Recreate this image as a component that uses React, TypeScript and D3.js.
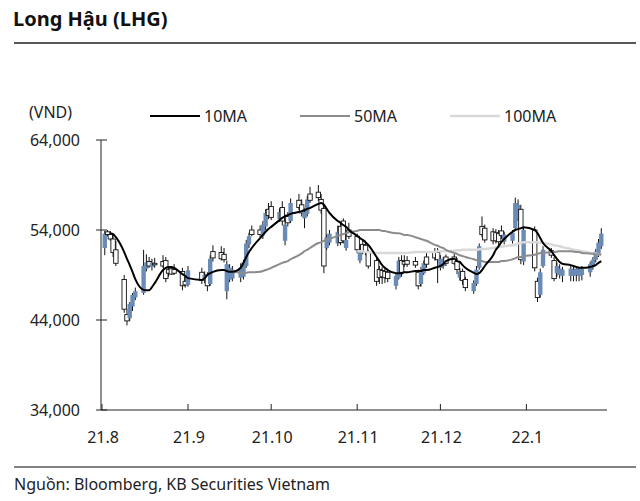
import * as d3 from "d3";

// [day, open, high, low, close] per trading day, VND
type Row = [number, number, number, number, number];

const AUG_2021: Row[] = [
  [2, 52000, 53900, 51200, 53600], [3, 53800, 54000, 53300, 53500], [4, 53500, 53900, 52800, 53000],
  [5, 53000, 53400, 51000, 51500], [6, 51800, 52800, 50000, 50300], [9, 48500, 49000, 44800, 45200],
  [10, 44600, 45200, 43400, 43900], [11, 44200, 46000, 43900, 45800], [12, 45500, 47000, 45000, 46800],
  [13, 46500, 47600, 46200, 47200], [16, 47000, 51800, 46800, 50000], [17, 49700, 51300, 49400, 50400],
  [18, 50500, 51000, 49800, 50000], [19, 49900, 50800, 49500, 50400], [20, 50300, 50900, 49800, 50200],
  [23, 50500, 51200, 49800, 50000], [24, 50600, 51000, 48200, 48600], [25, 49600, 50000, 48800, 49200],
  [26, 49700, 50000, 49000, 49100], [27, 49600, 50200, 49000, 49200], [30, 49400, 49800, 47300, 47800],
  [31, 48300, 48800, 47600, 47900],
];
const SEP_2021: Row[] = [
  [1, 47900, 50000, 47700, 49500], [6, 49300, 49800, 48000, 48400], [7, 48400, 49400, 48100, 49000],
  [8, 49000, 49300, 47200, 47800], [9, 48000, 51200, 47800, 50800], [10, 51600, 52300, 50500, 50900],
  [13, 51500, 52200, 50600, 50800], [14, 51300, 52000, 50400, 50700], [15, 47200, 50600, 46300, 50200],
  [16, 48500, 50200, 48200, 49800], [17, 48600, 50000, 48300, 49600], [20, 48700, 50300, 48200, 49800],
  [21, 48800, 50700, 48500, 50400], [22, 50000, 52900, 49800, 52500], [23, 52400, 53700, 52000, 53300],
  [24, 54000, 54500, 53300, 53500], [27, 54000, 54500, 53200, 53500], [28, 53400, 55000, 53000, 54600],
  [29, 54400, 56300, 54000, 55900], [30, 56300, 57000, 55200, 55600],
];
const OCT_2021: Row[] = [
  [1, 56600, 57200, 55100, 55400], [4, 55200, 56400, 54900, 56000], [5, 56500, 57200, 54500, 55000],
  [6, 52800, 55200, 52300, 54600], [7, 55500, 56000, 54400, 54800], [8, 55000, 57500, 54800, 57000],
  [11, 57300, 58000, 56200, 56500], [12, 56800, 57400, 55500, 55900], [13, 55300, 56400, 54200, 56000],
  [14, 55800, 57800, 55500, 57400], [15, 58000, 58800, 57000, 57300], [18, 58200, 59000, 57200, 57600],
  [19, 57400, 58000, 55800, 56200], [20, 56400, 56800, 49200, 50000], [21, 52000, 53500, 51800, 53200],
  [22, 52600, 54000, 52300, 53600], [25, 52500, 54500, 52200, 53800], [26, 54400, 54800, 52300, 52600],
  [27, 55000, 55300, 52500, 52800], [28, 52000, 53300, 51700, 52900], [29, 54000, 54800, 53000, 53300],
];
const NOV_2021: Row[] = [
  [1, 53300, 53600, 51400, 51800], [2, 50600, 52300, 50300, 51800], [3, 52400, 52900, 51300, 51600],
  [4, 52300, 52800, 51200, 51500], [5, 51500, 51800, 49700, 50000], [8, 50600, 51000, 47800, 48300],
  [9, 49600, 50000, 48000, 48700], [10, 49500, 49900, 48000, 48800], [11, 49400, 49900, 48100, 48700],
  [12, 49300, 49700, 48200, 48600], [15, 47800, 49200, 47400, 48900], [16, 48700, 51000, 48500, 50600],
  [17, 50600, 51200, 48800, 49300], [18, 50500, 51200, 49900, 50200], [19, 50600, 51100, 49900, 50200],
  [22, 50500, 51000, 49800, 50100], [23, 49300, 49600, 47400, 47800], [24, 48000, 49900, 47700, 49500],
  [25, 49200, 50600, 49000, 50300], [26, 51000, 51600, 49800, 50200], [29, 51600, 52000, 50600, 50900],
  [30, 51500, 52000, 48100, 50700],
];
const DEC_2021: Row[] = [
  [1, 49800, 51200, 49500, 50800], [2, 50000, 51000, 49700, 50600], [3, 51000, 51300, 50000, 50300],
  [6, 51000, 51400, 50100, 50300], [7, 50500, 50900, 49100, 49600], [8, 48700, 49800, 48400, 49400],
  [9, 49400, 49700, 47900, 48400], [10, 48500, 48800, 47200, 47600], [13, 47200, 48400, 46900, 48100],
  [14, 48000, 50000, 47800, 49600], [15, 49800, 52500, 49600, 52200], [16, 54400, 55500, 53200, 53500],
  [17, 54200, 54600, 52600, 52900], [20, 53800, 54200, 52400, 52800], [21, 53700, 54100, 52500, 52800],
  [22, 53600, 54000, 52300, 52700], [23, 53900, 54500, 53000, 53400], [24, 52700, 53800, 52400, 53500],
  [27, 52800, 54000, 52500, 53700], [28, 54200, 57600, 54000, 57000], [29, 55300, 57400, 55000, 56800],
  [30, 56300, 56800, 50200, 50700], [31, 50500, 54300, 50100, 54000],
];
const JAN_2022: Row[] = [
  [4, 54000, 54400, 49400, 49800], [5, 48300, 48700, 46000, 46500], [6, 46800, 49700, 46500, 49300],
  [7, 50000, 52200, 49800, 51800], [10, 51700, 52000, 50900, 51200], [11, 50600, 51000, 48300, 48600],
  [12, 49200, 50400, 48800, 50000], [13, 49000, 50200, 48600, 49700], [14, 48900, 49900, 48200, 49600],
  [17, 48900, 50100, 48300, 49700], [18, 48900, 49900, 48300, 49600], [19, 49000, 50000, 48300, 49700],
  [20, 48900, 49900, 48300, 49600], [21, 49000, 50000, 48400, 49700], [24, 49300, 50500, 48800, 50200],
  [25, 49900, 51000, 49600, 50700], [26, 50700, 51900, 50400, 51600], [27, 51300, 53000, 51000, 52600],
  [28, 52200, 54200, 51900, 53600],
];

const MONTHS: [number, number, Row[]][] = [
  [2021, 7, AUG_2021], [2021, 8, SEP_2021], [2021, 9, OCT_2021],
  [2021, 10, NOV_2021], [2021, 11, DEC_2021], [2022, 0, JAN_2022],
];

// moving averages, one value per trading day from their start date
const MA10_START = "2021-08-04";
const MA10 = [
  53650, 53550, 53200, 51550, 50800, 50100, 49350, 48550, 47350, 47300, 47300, 47650, 48100, 49550, 49800, 49900, 49900, 49800, 49100, 48900,
  48650, 48450, 48650, 49000, 49200, 49350, 49550, 49550, 49450, 49350, 49350, 49800, 50350, 51000, 51550, 52000, 53100, 53450, 53800, 54100,
  54350, 55100, 55350, 55550, 55650, 55800, 56000, 56100, 56200, 56350, 56450, 56900, 57000, 56800, 56350, 55900, 55000, 54800, 54550, 54350, 54000,
  53350, 53100, 52900, 52650, 52350, 51000, 50550, 50100, 49800, 49550, 49200, 49200, 49200, 49300, 49300, 49450, 49450, 49450, 49550, 49550, 49800, 49900,
  50000, 50200, 50550, 50800, 50550, 50450, 50100, 49800, 49250, 49100, 49200, 49550, 50000, 51200, 51800, 52200, 52650, 53000, 53800, 54000, 54100, 54200, 54300,
  54000, 53650, 53100, 52550, 51650, 51200, 50800, 50450, 50250, 50100, 50000, 49900, 49800, 49800, 49900, 50000, 50100, 50350, 50550,
];
const MA50_START = "2021-09-15";
const MA50 = [
  49350, 49350, 49350, 49250, 49250, 49250, 49300, 49300, 49350, 49450, 49550, 49650,
  49800, 50200, 50350, 50450, 50550, 50750, 51200, 51400, 51650, 51800, 52000, 52550, 52650, 52800, 52900, 53000, 53350, 53450, 53550, 53650, 53750,
  53900, 54000, 54000, 54000, 54000, 54000, 54000, 53900, 53900, 53800, 53650, 53650, 53550, 53450, 53450, 53200, 53100, 53000, 52900, 52800, 52350, 52250,
  52100, 52000, 51800, 51450, 51350, 51200, 51100, 51000, 50750, 50650, 50550, 50550, 50450, 50450, 50450, 50450, 50550, 50550, 50750, 50850, 51000, 51000, 51100,
  51250, 51350, 51450, 51450, 51550, 51550, 51600, 51650, 51650, 51650, 51600, 51550, 51550, 51450, 51400, 51350, 51300, 51300, 51250,
];
const MA100_START = "2021-11-01";
const MA100 = [
  51650, 51650, 51600, 51550, 51550, 51450, 51450, 51450, 51450, 51450, 51450, 51450, 51450, 51450, 51450, 51550, 51550, 51550, 51550, 51550, 51550, 51650,
  51650, 51650, 51650, 51700, 51750, 51750, 51800, 51800, 51800, 51800, 51850, 51900, 51900, 52000, 52050, 52100, 52150, 52200, 52300, 52400, 52500, 52550, 52650,
  52650, 52650, 52600, 52550, 52400, 52300, 52250, 52200, 52100, 51900, 51800, 51750, 51700, 51650, 51450, 51400, 51350, 51300, 51250,
];

const Y_TICKS = [34000, 44000, 54000, 64000];
const X_TICKS: [number, number, string][] = [
  [2021, 7, "21.8"], [2021, 8, "21.9"], [2021, 9, "21.10"],
  [2021, 10, "21.11"], [2021, 11, "21.12"], [2022, 0, "22.1"],
];
const LEGEND = [
  { label: "10MA", color: "#000000", width: 2 },
  { label: "50MA", color: "#8c8c8c", width: 2 },
  { label: "100MA", color: "#d9d9d9", width: 2.5 },
];

const UP = "#6b8bb7";
const FONT = "'Noto Sans', sans-serif";

interface Candle { date: Date; o: number; h: number; l: number; c: number }

const candles: Candle[] = MONTHS.flatMap(([yr, mo, rows]) =>
  rows.map(([d, o, h, l, c]) => ({ date: new Date(yr, mo, d), o, h, l, c })),
);

const iso = d3.timeFormat("%Y-%m-%d");
function maSeries(start: string, vals: number[]) {
  const i0 = candles.findIndex((c) => iso(c.date) === start);
  return vals.map((v, i) => ({ date: candles[i0 + i]?.date, v })).filter((p) => p.date);
}

export default function App() {
  const width = 640;
  const height = 501;
  const x = d3
    .scaleTime()
    .domain([new Date(2021, 7, 1), new Date(2022, 0, 31)])
    .range([102, 609.6]);
  const y = d3.scaleLinear().domain([34000, 64000]).range([410, 140]);
  const fmt = d3.format(",");
  const line = d3
    .line<{ date: Date; v: number }>()
    .x((d) => x(d.date))
    .y((d) => y(d.v))
    .curve(d3.curveMonotoneX);
  const bw = 4.4;

  const maLines = [
    { data: maSeries(MA100_START, MA100), ...LEGEND[2] },
    { data: maSeries(MA50_START, MA50), ...LEGEND[1] },
    { data: maSeries(MA10_START, MA10), ...LEGEND[0] },
  ];

  return (
    <svg
      width={width}
      height={height}
      style={{ position: "absolute", left: 0, top: 0, background: "#fff" }}
      fontFamily={FONT}
    >
      <text x={13} y={26} fontSize={20} fontWeight={700} fill="#111">
        Long Hậu (LHG)
      </text>
      <line x1={14} x2={636} y1={43} y2={43} stroke="#595959" strokeWidth={2} />

      <text x={29} y={118} fontSize={16} fill="#222">(VND)</text>
      {LEGEND.map((d, i) => (
        <g key={d.label} transform={`translate(${150 + i * 150},116)`}>
          <line x1={0} x2={50} y1={0} y2={0} stroke={d.color} strokeWidth={d.width} />
          <text x={54} y={5.5} fontSize={16} fill="#222">{d.label}</text>
        </g>
      ))}

      {/* candles */}
      {candles.map((d, i) => {
        const cx = x(d.date);
        const up = d.c >= d.o;
        const top = y(Math.max(d.o, d.c));
        const bot = y(Math.min(d.o, d.c));
        return (
          <g key={i}>
            <line x1={cx} x2={cx} y1={y(d.h)} y2={y(d.l)} stroke="#111" strokeWidth={1} />
            <rect
              x={cx - bw / 2}
              y={top}
              width={bw}
              height={Math.max(1.5, bot - top)}
              fill={up ? UP : "#fff"}
              stroke={up ? "none" : "#111"}
              strokeWidth={0.9}
            />
          </g>
        );
      })}

      {maLines.map((m) => (
        <path key={m.label} d={line(m.data) ?? ""} fill="none" stroke={m.color} strokeWidth={m.width} />
      ))}

      {/* y axis */}
      <line x1={101} x2={101} y1={y(64000)} y2={410} stroke="#222" strokeWidth={1} />
      {Y_TICKS.map((t) => (
        <g key={t}>
          <line x1={96} x2={107} y1={y(t)} y2={y(t)} stroke="#222" strokeWidth={1} />
          <text x={80} y={y(t) + 5.5} fontSize={16} textAnchor="end" fill="#222">{fmt(t)}</text>
        </g>
      ))}

      {/* x axis */}
      <line x1={101} x2={607} y1={410} y2={410} stroke="#222" strokeWidth={1} />
      {X_TICKS.map(([yr, mo, label]) => {
        const tx = x(new Date(yr, mo, 1));
        return (
          <g key={label}>
            <line x1={tx} x2={tx} y1={404} y2={410} stroke="#222" strokeWidth={1} />
            <text x={tx + 1} y={443} fontSize={16} textAnchor="middle" fill="#222">{label}</text>
          </g>
        );
      })}

      <line x1={14} x2={636} y1={467} y2={467} stroke="#595959" strokeWidth={1.5} />
      <text x={14} y={490} fontSize={16} fill="#222">Nguồn: Bloomberg, KB Securities Vietnam</text>
    </svg>
  );
}
